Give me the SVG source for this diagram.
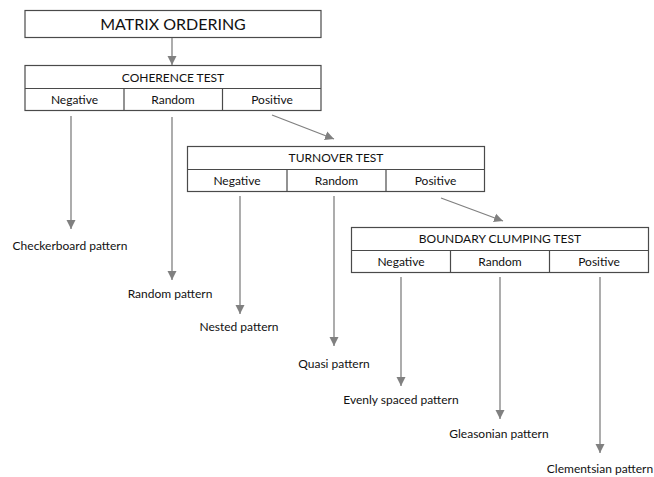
<svg xmlns="http://www.w3.org/2000/svg" width="654" height="477" viewBox="0 0 654 477">
<style>
.box{fill:#fff;stroke:#4a4a4a;stroke-width:1.2}
.t{font-family:Lato,"Open Sans","Liberation Sans",sans-serif;fill:#111;text-anchor:middle}
.h{font-size:12px}
.c{font-size:12px}
.l{font-size:12px}
.con line{stroke:#808080;stroke-width:1.3;marker-end:url(#ah)}
</style>
<defs>
<marker id="ah" markerUnits="userSpaceOnUse" markerWidth="10" markerHeight="10" viewBox="0 0 10 10" refX="9" refY="5" orient="auto">
<path d="M0,0.5 L9,5 L0,9.5 Z" fill="#808080"/>
</marker>
</defs>
<rect width="654" height="477" fill="#fff"/>
<g id="matrix">
<rect class="box" x="25" y="10.5" width="296" height="27"/>
<text class="t" x="173" y="30" style="font-size:16px">MATRIX ORDERING</text>
</g>
<g id="coherence">
<rect class="box" x="25" y="65.5" width="296" height="45"/>
<line class="box" x1="25" y1="88.5" x2="321" y2="88.5"/>
<line class="box" x1="124" y1="88.5" x2="124" y2="110.5"/>
<line class="box" x1="222.5" y1="88.5" x2="222.5" y2="110.5"/>
<text class="t h" x="173" y="81.5">COHERENCE TEST</text>
<text class="t c" x="74.5" y="103.5">Negative</text>
<text class="t c" x="173" y="103.5">Random</text>
<text class="t c" x="272" y="103.5">Positive</text>
</g>
<g id="turnover">
<rect class="box" x="187.5" y="146.5" width="297" height="45"/>
<line class="box" x1="187.5" y1="169.5" x2="484.5" y2="169.5"/>
<line class="box" x1="287" y1="169.5" x2="287" y2="191.5"/>
<line class="box" x1="386" y1="169.5" x2="386" y2="191.5"/>
<text class="t h" x="336" y="162">TURNOVER TEST</text>
<text class="t c" x="237" y="185">Negative</text>
<text class="t c" x="336.5" y="185">Random</text>
<text class="t c" x="435.5" y="185">Positive</text>
</g>
<g id="boundary">
<rect class="box" x="351.5" y="227.5" width="297" height="45"/>
<line class="box" x1="351.5" y1="250.5" x2="648.5" y2="250.5"/>
<line class="box" x1="450.5" y1="250.5" x2="450.5" y2="272.5"/>
<line class="box" x1="549.5" y1="250.5" x2="549.5" y2="272.5"/>
<text class="t h" x="500" y="243">BOUNDARY CLUMPING TEST</text>
<text class="t c" x="401" y="266">Negative</text>
<text class="t c" x="500" y="266">Random</text>
<text class="t c" x="599" y="266">Positive</text>
</g>
<g id="checkerboard"><text class="t l" x="70" y="250">Checkerboard pattern</text></g>
<g id="random"><text class="t l" x="170" y="298">Random pattern</text></g>
<g id="nested"><text class="t l" x="239" y="331">Nested pattern</text></g>
<g id="quasi"><text class="t l" x="334" y="368">Quasi pattern</text></g>
<g id="evenly"><text class="t l" x="401" y="404">Evenly spaced pattern</text></g>
<g id="gleasonian"><text class="t l" x="499" y="438">Gleasonian pattern</text></g>
<g id="clementsian"><text class="t l" x="600" y="473">Clementsian pattern</text></g>
<g id="connectors" class="con">
<line x1="172" y1="38" x2="172" y2="65"/>
<line x1="71" y1="116" x2="71" y2="229"/>
<line x1="172" y1="117" x2="172" y2="280"/>
<line x1="272" y1="115" x2="334" y2="139"/>
<line x1="240" y1="196" x2="240" y2="314"/>
<line x1="334" y1="196" x2="334" y2="346"/>
<line x1="441" y1="198" x2="503" y2="221"/>
<line x1="401" y1="277" x2="401" y2="386"/>
<line x1="500" y1="277" x2="500" y2="419"/>
<line x1="600" y1="277" x2="600" y2="453"/>
</g>
</svg>
